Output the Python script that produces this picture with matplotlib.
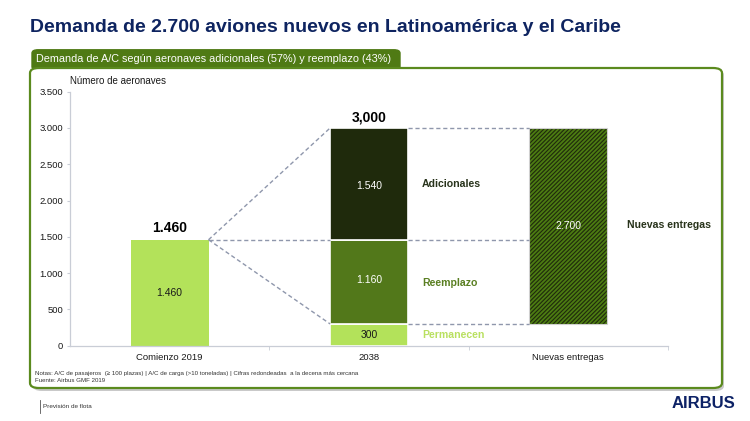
import matplotlib
matplotlib.use("Agg")
import matplotlib.pyplot as plt
from matplotlib.patches import FancyBboxPatch
from matplotlib.lines import Line2D

plt.rcParams['font.family'] = ['Liberation Sans', 'DejaVu Sans']
plt.rcParams['hatch.linewidth'] = 1.3

# data
categories = ["Comienzo 2019", "2038", "Nuevas entregas"]
start_2019 = 1460
remain = 300
replacement = 1160
additional = 1540
total_2038 = 3000
new_deliveries = 2700
yticks = [0, 500, 1000, 1500, 2000, 2500, 3000, 3500]

light = "#b3e25a"
mid = "#52781a"
dark = "#1f2a0c"
hatch_green = "#4c7c12"
navy = "#0e2460"
dash_col = "#8f97ac"

W, H = 750, 421
fig = plt.figure(figsize=(7.5, 4.21), dpi=100)


def fx(x):
    return x / W


def fy(y):
    return 1 - y / H


# title
fig.text(fx(30), fy(27), "Demanda de 2.700 aviones nuevos en Latinoamérica y el Caribe",
         fontsize=14.0, fontweight="bold", color=navy, va="center", ha="left")

# tab + frame (drawn behind the axes)
tab = FancyBboxPatch((fx(32), fy(70)), fx(368), (68 - 52) / H + 0.01,
                     boxstyle="round,pad=0,rounding_size=0.008",
                     transform=fig.transFigure, facecolor="#4f7a14",
                     edgecolor="#4f7a14", linewidth=1, zorder=-3)
fig.patches.append(tab)
shadow = FancyBboxPatch((fx(33), fy(391)), fx(691), (391 - 70) / H,
                        boxstyle="round,pad=0,rounding_size=0.012",
                        transform=fig.transFigure, facecolor="#c9c9c9",
                        edgecolor="none", zorder=-2)
fig.patches.append(shadow)
frame = FancyBboxPatch((fx(30), fy(388)), fx(692), (388 - 68) / H,
                       boxstyle="round,pad=0,rounding_size=0.012",
                       transform=fig.transFigure, facecolor="white",
                       edgecolor="#5b8a1e", linewidth=1.6, zorder=-1)
fig.patches.append(frame)
fig.text(fx(36), fy(59), "Demanda de A/C según aeronaves adicionales (57%) y reemplazo (43%)",
         fontsize=7.8, color="white", va="center", ha="left")

# chart
ax = fig.add_axes([fx(70), fy(345.7), fx(668 - 70), (345.7 - 91.7) / H])
ax.set_zorder(2)
ax.patch.set_alpha(0)
ax.set_xlim(-0.5, 2.5)
ax.set_ylim(0, 3500)
bw = 0.39

ax.bar(0, start_2019, width=bw, color=light, edgecolor="none")
ax.bar(1, remain, width=bw, color=light, edgecolor="white", linewidth=1.2)
ax.bar(1, replacement, bottom=remain, width=bw, color=mid, edgecolor="white", linewidth=1.2)
ax.bar(1, additional, bottom=remain + replacement, width=bw, color=dark,
       edgecolor="white", linewidth=1.2)
ax.bar(2, new_deliveries, bottom=remain, width=bw, color=dark, edgecolor=hatch_green,
       hatch="////////", linewidth=0)
ax.bar(2, new_deliveries, bottom=remain, width=bw, fill=False, edgecolor="#d0d0d0",
       linewidth=0.8)

# connectors
dash = dict(color=dash_col, linewidth=1.0, linestyle=(0, (3, 2)))
for target in [total_2038, start_2019, remain]:
    ax.plot([bw / 2, 1 - bw / 2], [start_2019, target], **dash)
for level in [total_2038, remain + replacement, remain]:
    ax.plot([1 + bw / 2, 2 - bw / 2], [level, level], **dash)

# values
ax.text(0, start_2019 / 2, "1.460", ha="center", va="center", fontsize=7.5, color="#1a1a1a")
ax.text(1, remain / 2, "300", ha="center", va="center", fontsize=7.5, color="#1a1a1a")
ax.text(1, remain + replacement / 2 + 20, "1.160", ha="center", va="center", fontsize=7.5, color="white")
ax.text(1, remain + replacement + additional / 2 - 30, "1.540", ha="center", va="center",
        fontsize=7.5, color="white")
ax.text(2, remain + new_deliveries / 2, "2.700", ha="center", va="center", fontsize=7.5, color="white")
ax.text(0, start_2019 + 160, "1.460", ha="center", va="center", fontsize=10, fontweight="bold")
ax.text(1, total_2038 + 150, "3,000", ha="center", va="center", fontsize=10, fontweight="bold")

ax.text(1.265, 2230, "Adicionales", ha="left", va="center", fontsize=7.6,
        fontweight="bold", color="#28331b")
ax.text(1.265, 865, "Reemplazo", ha="left", va="center", fontsize=7.6,
        fontweight="bold", color="#5a7f22")
ax.text(1.265, 150, "Permanecen", ha="left", va="center", fontsize=7.6,
        fontweight="bold", color="#b9e060")
ax.text(2.295, 1660, "Nuevas entregas", ha="left", va="center", fontsize=7.6,
        fontweight="bold", color="#28331b")

# axes styling
for s in ["top", "right"]:
    ax.spines[s].set_visible(False)
for s in ["left", "bottom"]:
    ax.spines[s].set_color("#c9cdd6")
    ax.spines[s].set_linewidth(0.9)
ax.set_yticks(yticks)
ax.set_yticklabels([f"{v:,}".replace(",", ".") for v in yticks])
ax.tick_params(axis="y", labelsize=6.8, length=2, color="#c9cdd6", pad=3, labelcolor="#1a1a1a")
ax.set_xticks(range(len(categories)))
ax.set_xticklabels(categories)
ax.tick_params(axis="x", which="major", length=0, labelsize=6.8, pad=5, labelcolor="#1a1a1a")
ax.set_xticks([0.5, 1.5, 2.5], minor=True)
ax.tick_params(axis="x", which="minor", length=3, color="#c9cdd6")

fig.text(fx(70), fy(80.5), "Número de aeronaves", fontsize=7, ha="left", va="center",
         color="#1a1a1a")

# notes
fig.text(fx(35), fy(374), "Notas: A/C de pasajeros  (≥ 100 plazas) | A/C de carga (>10 toneladas) | "
         "Cifras redondeadas  a la decena más cercana", fontsize=4.4, ha="left", va="center",
         color="#333333")
fig.text(fx(35), fy(381), "Fuente: Airbus GMF 2019", fontsize=4.4, ha="left", va="center",
         color="#333333")

# footer
fig.add_artist(Line2D([fx(40), fx(40)], [fy(400), fy(413)], transform=fig.transFigure,
                      color="#555555", linewidth=0.6))
fig.text(fx(43), fy(407), "Previsión de flota", fontsize=4.6, ha="left", va="center",
         color="#333333")
fig.text(fx(735), fy(404), "AIRBUS", fontsize=12, fontweight="bold", ha="right", va="center",
         color="#0d2266")

fig.savefig("out.png", dpi=100)
